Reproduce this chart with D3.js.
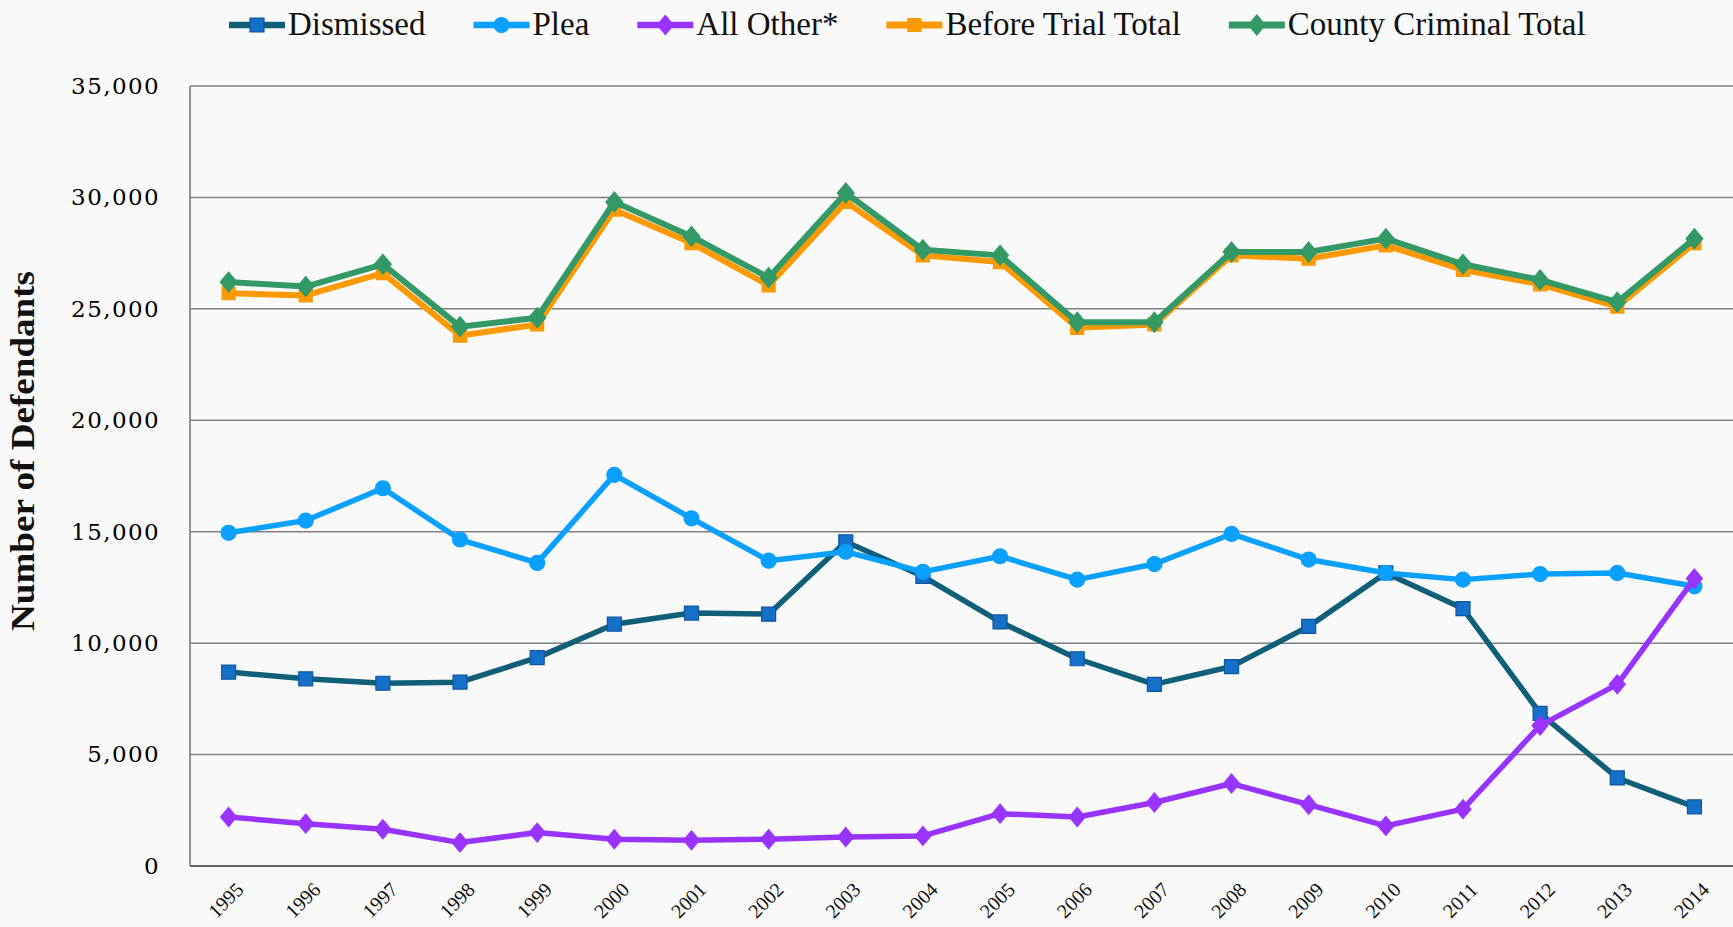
<!DOCTYPE html>
<html>
<head>
<meta charset="utf-8">
<script src="https://cdn.jsdelivr.net/npm/d3@7"></script>
<style>
  html, body { margin: 0; padding: 0; background: #f9f9f9; }
  svg { display: block; }
</style>
</head>
<body>
<div id="chart"></div>
<script>
// data
var years = ["1995", "1996", "1997", "1998", "1999", "2000", "2001", "2002", "2003", "2004",
    "2005", "2006", "2007", "2008", "2009", "2010", "2011", "2012", "2013", "2014"];

var dismissed = [8700, 8400, 8200, 8250, 9350, 10850, 11350, 11300, 14550, 13000,
    10950, 9300, 8150, 8950, 10750, 13150, 11550, 6850, 3950, 2650];
var plea = [14950, 15500, 16950, 14650, 13600, 17550, 15600, 13700, 14100, 13200,
    13900, 12850, 13550, 14900, 13750, 13150, 12850, 13100, 13150, 12550];
var allOther = [2200, 1900, 1650, 1050, 1500, 1200, 1150, 1200, 1300, 1350,
    2350, 2200, 2850, 3700, 2750, 1800, 2550, 6300, 8150, 12900];
var beforeTrial = [25700, 25600, 26600, 23800, 24300, 29450, 27950, 26050, 29800, 27400,
    27100, 24150, 24300, 27400, 27250, 27850, 26750, 26100, 25100, 27950];
var countyTotal = [26200, 26000, 27000, 24200, 24600, 29800, 28250, 26400, 30200, 27650,
    27400, 24400, 24400, 27550, 27550, 28150, 27000, 26300, 25300, 28150];

var yTicks = [0, 5000, 10000, 15000, 20000, 25000, 30000, 35000];

var seriesNames = ["Dismissed", "Plea", "All Other*", "Before Trial Total", "County Criminal Total"];

var series = [
    { name: seriesNames[0], values: dismissed, line: "#0f5f78", fill: "#1570c8", stroke: "#0d56a0", marker: "square", size: 14, width: 5.5 },
    { name: seriesNames[1], values: plea, line: "#0aa0ff", fill: "#0aa0ff", stroke: "#0aa0ff", marker: "circle", size: 15, width: 5.5 },
    { name: seriesNames[2], values: allOther, line: "#9933ff", fill: "#9933ff", stroke: "#9933ff", marker: "diamond", size: 19, width: 5.5 },
    { name: seriesNames[3], values: beforeTrial, line: "#ff9900", fill: "#ff9900", stroke: "#ff9900", marker: "square", size: 13, width: 6 },
    { name: seriesNames[4], values: countyTotal, line: "#339966", fill: "#339966", stroke: "#339966", marker: "diamond", size: 20, width: 6 }
];

var W = 1733, H = 927;
var margin = { top: 86, right: 0, bottom: 61, left: 190 };
var width = W - margin.left - margin.right;
var height = H - margin.top - margin.bottom;

var svg = d3.select("#chart").append("svg")
    .attr("width", W)
    .attr("height", H);

svg.append("rect").attr("width", W).attr("height", H).attr("fill", "#f9f9f9");

var g = svg.append("g")
    .attr("transform", "translate(" + margin.left + "," + margin.top + ")");

var x = d3.scaleBand().domain(years).range([0, width]);
var y = d3.scaleLinear().domain([0, 35000]).range([height, 0]);

function cx(i) { return x(years[i]) + x.bandwidth() / 2; }

// gridlines
g.selectAll(".grid")
    .data(yTicks.filter(function (d) { return d > 0; }))
    .enter().append("line")
    .attr("class", "grid")
    .attr("x1", 0).attr("x2", width)
    .attr("y1", function (d) { return y(d); })
    .attr("y2", function (d) { return y(d); })
    .attr("stroke", "#808080")
    .attr("stroke-width", 1.5);

// axes lines
g.append("line")
    .attr("x1", 0).attr("x2", 0).attr("y1", y(35000)).attr("y2", height)
    .attr("stroke", "#707070").attr("stroke-width", 1.5);
g.append("line")
    .attr("x1", 0).attr("x2", width).attr("y1", height).attr("y2", height)
    .attr("stroke", "#666666").attr("stroke-width", 2);

// y tick labels
var yAxis = g.append("g")
    .call(d3.axisLeft(y).tickValues(yTicks).tickSize(0).tickPadding(30).tickFormat(d3.format(",")));
yAxis.select(".domain").remove();
yAxis.selectAll("text")
    .attr("font-family", "DejaVu Serif")
    .attr("font-size", 23)
    .attr("letter-spacing", 1.4)
    .attr("fill", "#000");

// x tick labels
var xAxis = g.append("g")
    .attr("transform", "translate(0," + height + ")")
    .call(d3.axisBottom(x).tickSize(0).tickFormat(function (d) { return d; }));
xAxis.select(".domain").remove();
xAxis.selectAll("text")
    .attr("font-family", "Liberation Serif")
    .attr("font-size", 20)
    .attr("fill", "#111")
    .attr("text-anchor", "middle")
    .attr("dy", 0)
    .attr("y", 0)
    .attr("transform", "translate(2,39) rotate(-45)");

// y title
svg.append("text")
    .attr("transform", "translate(34,451) rotate(-90)")
    .attr("text-anchor", "middle")
    .attr("font-family", "Liberation Serif")
    .attr("font-weight", "bold")
    .attr("font-size", 33)
    .attr("textLength", 360)
    .attr("lengthAdjust", "spacingAndGlyphs")
    .attr("fill", "#111")
    .text("Number of Defendants");

function markerPath(type, s) {
    var h = s / 2;
    if (type === "square") return "M" + (-h) + "," + (-h) + "h" + s + "v" + s + "h" + (-s) + "Z";
    if (type === "diamond") {
        var w = s * 0.42;
        return "M0," + (-h) + "L" + w + ",0L0," + h + "L" + (-w) + ",0Z";
    }
    return d3.symbol(d3.symbolCircle, Math.PI * h * h)();
}

var line = d3.line()
    .x(function (d, i) { return cx(i); })
    .y(function (d) { return y(d); });

series.forEach(function (s) {
    var sg = g.append("g");
    sg.append("path")
        .datum(s.values)
        .attr("d", line)
        .attr("fill", "none")
        .attr("stroke", s.line)
        .attr("stroke-width", s.width)
        .attr("stroke-linejoin", "round");
    sg.selectAll(".m")
        .data(s.values)
        .enter().append("path")
        .attr("class", "m")
        .attr("d", markerPath(s.marker, s.size))
        .attr("transform", function (d, i) { return "translate(" + cx(i) + "," + y(d) + ")"; })
        .attr("fill", s.fill)
        .attr("stroke", s.stroke)
        .attr("stroke-width", 1.2);
});

// legend
var legend = svg.append("g").attr("transform", "translate(0,25)");
var lx = 229;
series.forEach(function (s) {
    var it = legend.append("g").attr("transform", "translate(" + lx + ",0)");
    it.append("line")
        .attr("x1", 0).attr("x2", 56).attr("y1", 0).attr("y2", 0)
        .attr("stroke", s.line).attr("stroke-width", s.width + 1);
    it.append("path")
        .attr("d", markerPath(s.marker, s.size))
        .attr("transform", "translate(28,0)")
        .attr("fill", s.fill).attr("stroke", s.stroke).attr("stroke-width", 1.2);
    var t = it.append("text")
        .attr("x", 59).attr("y", 10)
        .attr("font-family", "Liberation Serif")
        .attr("font-size", 33)
        .attr("fill", "#111")
        .text(s.name);
    lx += 59 + t.node().getComputedTextLength() + 48;
});
</script>
</body>
</html>
